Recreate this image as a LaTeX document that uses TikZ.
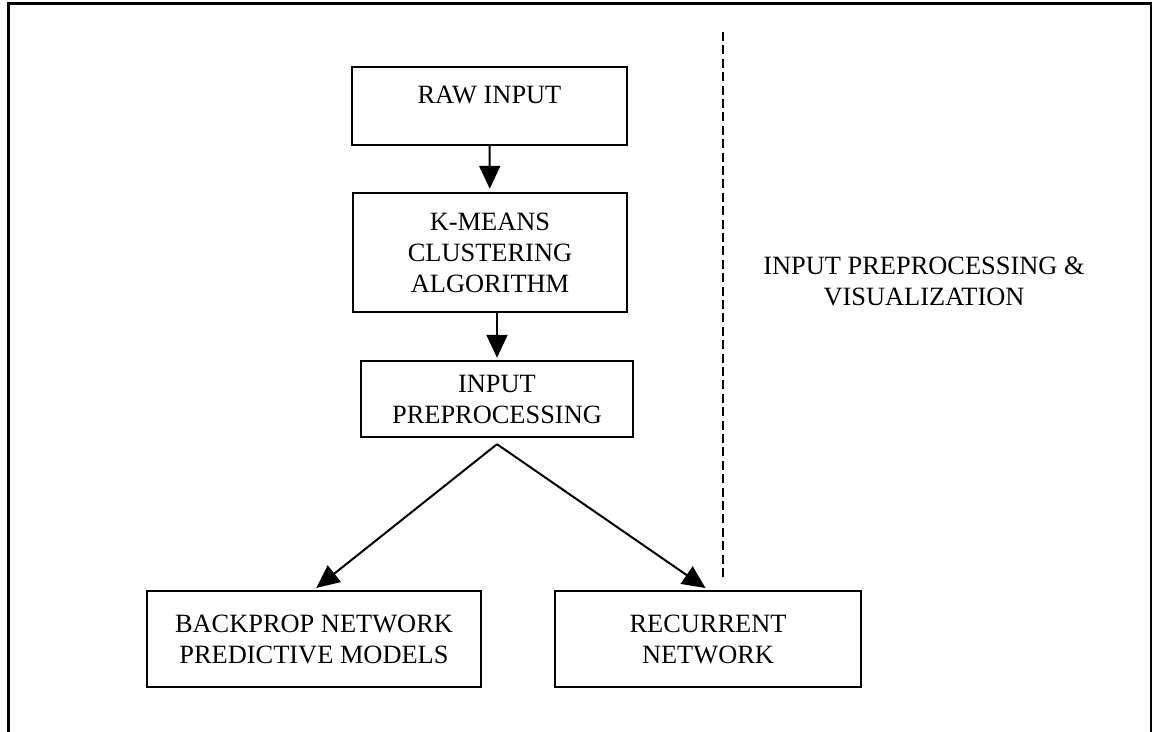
\documentclass[tikz,border=0pt]{standalone}
\usepackage{fontspec}
\setmainfont{Liberation Serif}
\usetikzlibrary{arrows.meta}

\begin{document}
\begin{tikzpicture}[x=0.5pt, y=-0.5pt,
    every node/.style={font=\fontsize{13.2pt}{15.5pt}\selectfont, align=center},
    block/.style={draw, line width=1.2pt, inner sep=0pt},
    flow/.style={-{Triangle[length=11.5pt,width=10.5pt]}, line width=1pt}]
    \useasboundingbox (0,0) rectangle (1152,732);
    % outer frame, open at the bottom
    \draw[line width=1.5pt] (8,732) -- (8,4) -- (1151,4) -- (1151,732);

    \node[block, minimum width=137.5pt, minimum height=39pt] (raw) at (489.5,106) {RAW INPUT\\[-9pt] \strut};
    \node[block, minimum width=137pt, minimum height=59.5pt] (kmeans) at (490,252.5) {K-MEANS\\CLUSTERING\\ALGORITHM};
    \node[block, minimum width=136pt, minimum height=38pt] (prep) at (497,399) {INPUT\\PREPROCESSING};
    \node[block, minimum width=167pt, minimum height=48pt] (back) at (314,639) {BACKPROP NETWORK\\PREDICTIVE MODELS};
    \node[block, minimum width=153pt, minimum height=48pt] (rec) at (708,639) {RECURRENT\\NETWORK};
    \coordinate (apex) at ([yshift=-3pt]prep.south);

    \draw[flow, shorten >=1.5pt] (raw) -- (kmeans);
    \draw[flow, shorten >=1pt] (prep.north |- kmeans.south) -- (prep.north);
    \draw[flow, shorten >=1.5pt] (apex) -- (back.north);
    \draw[flow, shorten >=1.5pt] (apex) -- (rec.north);

    % separator
    \draw[line width=1.3pt, dash pattern=on 4.5pt off 2.2pt] (723,32) -- (723,580);
    \node (side) at (924,281) {INPUT PREPROCESSING \&\\VISUALIZATION};
\end{tikzpicture}
\end{document}
